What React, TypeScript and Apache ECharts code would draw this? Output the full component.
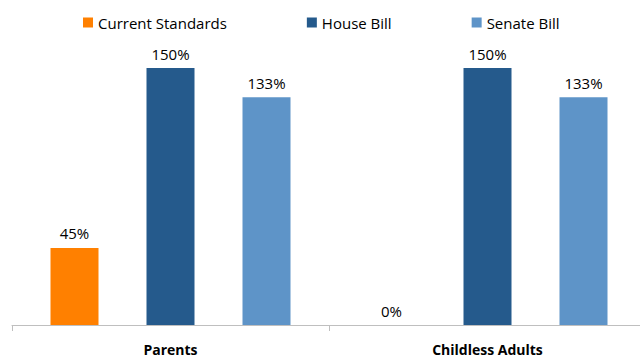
import React, { useEffect, useRef } from "react";
import * as echarts from "echarts";

const categories = ["Parents", "Childless Adults"];
const currentStandards = [45, 0];
const houseBill = [150, 150];
const senateBill = [133, 133];

export default function App() {
  const ref = useRef<HTMLDivElement>(null);
  useEffect(() => {
    const chart = echarts.init(ref.current!, null, { renderer: "svg" });
    const label = {
      show: true,
      position: "top",
      formatter: "{c}%",
      color: "#000",
      fontSize: 15,
      fontFamily: "Open Sans",
      distance: 7,
    };
    chart.setOption({
      animation: false,
      legend: {
        top: 10,
        left: 78,
        itemWidth: 10,
        itemHeight: 10,
        itemGap: 80,
        icon: "rect",
        textStyle: { fontSize: 15, color: "#000", fontFamily: "Open Sans" },
        data: ["Current Standards", "House Bill", "Senate Bill"],
      },
      grid: { left: 12, width: 634, top: 68, height: 257, containLabel: false },
      xAxis: {
        type: "category",
        data: categories,
        axisLine: { lineStyle: { color: "#BFBFBF" } },
        axisTick: { show: true, length: 6, lineStyle: { color: "#BFBFBF" } },
        axisLabel: {
          color: "#000",
          fontWeight: "bold",
          fontSize: 14,
          fontFamily: "Open Sans",
          margin: 17,
        },
      },
      yAxis: { type: "value", min: 0, max: 150, show: false, splitLine: { show: false } },
      series: [
        {
          name: "Current Standards",
          type: "bar",
          data: currentStandards,
          itemStyle: { color: "#FF8000" },
          barWidth: 48,
          barGap: "100%",
          label,
        },
        {
          name: "House Bill",
          type: "bar",
          data: houseBill,
          itemStyle: { color: "#255A8C" },
          barWidth: 48,
          barGap: "100%",
          label,
        },
        {
          name: "Senate Bill",
          type: "bar",
          data: senateBill,
          itemStyle: { color: "#5E94C8" },
          barWidth: 48,
          barGap: "100%",
          label,
        },
      ],
    });
    return () => chart.dispose();
  }, []);
  return (
    <div style={{ position: "absolute", left: 0, top: 0, width: 640, height: 362, overflow: "hidden" }}>
      <div ref={ref} style={{ width: 660, height: 362 }} />
    </div>
  );
}
